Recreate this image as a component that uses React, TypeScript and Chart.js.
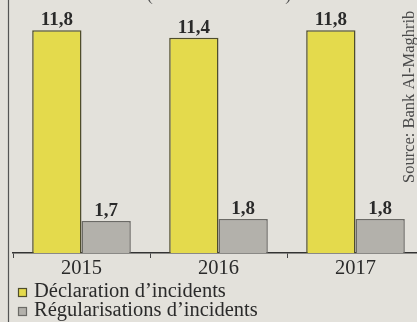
import React, { useEffect, useRef } from "react";
import { Chart, registerables } from "chart.js";

Chart.register(...registerables);

const categories = ["2015", "2016", "2017"];
const declarations = [11.8, 11.4, 11.8];
const regularisations = [1.7, 1.8, 1.8];
const seriesNames = ["Déclaration d\u2019incidents", "Régularisations d\u2019incidents"];
const titleText = "(en millions de DH)";
const sourceText = "Source: Bank Al-Maghrib";

const YELLOW = "#e4da4c";
const YELLOW_BORDER = "#4f4d2c";
const GRAY = "#b3b1ab";
const GRAY_BORDER = "#6b6a66";
const BG = "#e3e1db";
const INK = "#2a2a2a";
const SERIF = "'Liberation Serif', 'DejaVu Serif', serif";

const decorPlugin = {
  id: "decor",
  beforeDraw(chart: any) {
    const ctx = chart.ctx;
    ctx.save();
    ctx.fillStyle = BG;
    ctx.fillRect(0, 0, chart.width, chart.height);
    ctx.restore();
  },
  afterDraw(chart: any) {
    const ctx = chart.ctx;
    ctx.save();
    // left frame line
    ctx.strokeStyle = "#555";
    ctx.lineWidth = 1.2;
    ctx.beginPath();
    ctx.moveTo(8.5, 0);
    ctx.lineTo(8.5, chart.height);
    ctx.stroke();

    // value labels
    ctx.fillStyle = INK;
    ctx.font = `bold 19px ${SERIF}`;
    ctx.textAlign = "center";
    ctx.textBaseline = "alphabetic";
    chart.data.datasets.forEach((ds: any, i: number) => {
      const meta = chart.getDatasetMeta(i);
      meta.data.forEach((el: any, j: number) => {
        const v = ds.data[j];
        ctx.fillText(String(v).replace(".", ","), el.x, el.y - 5);
      });
    });

    // title (cut at top)
    ctx.font = `18px ${SERIF}`;
    ctx.fillStyle = "#555";
    ctx.fillText(titleText, 219, 0);

    // legend
    const items = [
      { name: seriesNames[0], fill: YELLOW, border: YELLOW_BORDER },
      { name: seriesNames[1], fill: GRAY, border: GRAY_BORDER },
    ];
    items.forEach((it, k) => {
      const y = 288 + k * 19;
      ctx.fillStyle = it.fill;
      ctx.fillRect(18, y, 9, 9);
      ctx.strokeStyle = it.border;
      ctx.lineWidth = 1.2;
      ctx.strokeRect(18.5, y + 0.5, 8, 8);
      ctx.fillStyle = INK;
      ctx.font = `20.5px ${SERIF}`;
      ctx.textAlign = "left";
      ctx.fillText(it.name, 34, y + 9);
    });

    // source (rotated)
    ctx.translate(414, 183);
    ctx.rotate(-Math.PI / 2);
    ctx.font = `16.5px ${SERIF}`;
    ctx.fillStyle = "#4a4a4a";
    ctx.textAlign = "left";
    ctx.fillText(sourceText, 0, 0);
    ctx.restore();
  },
};

export default function App() {
  const ref = useRef<HTMLCanvasElement>(null);
  useEffect(() => {
    if (!ref.current) return;
    const chart = new Chart(ref.current, {
      type: "bar",
      data: {
        labels: categories,
        datasets: [
          {
            label: seriesNames[0],
            data: declarations,
            backgroundColor: YELLOW,
            borderColor: YELLOW_BORDER,
            borderWidth: 1.5,
            categoryPercentage: 0.72,
            barPercentage: 1,
          },
          {
            label: seriesNames[1],
            data: regularisations,
            backgroundColor: GRAY,
            borderColor: GRAY_BORDER,
            borderWidth: 1.5,
            categoryPercentage: 0.72,
            barPercentage: 1,
          },
        ],
      },
      options: {
        responsive: false,
        animation: false,
        layout: { padding: { top: 17, left: 13, right: 6, bottom: 0 } },
        plugins: { legend: { display: false }, tooltip: { enabled: false } },
        scales: {
          y: { display: false, min: 0, max: 12.5 },
          x: {
            grid: {
              display: true,
              drawOnChartArea: false,
              drawTicks: true,
              tickLength: 5,
              color: "#444",
              lineWidth: 1,
              offset: true,
            },
            border: { display: true, color: "#333", width: 1.5 },
            ticks: {
              color: INK,
              padding: -2,
              font: { family: SERIF, size: 20.5 },
            },
            afterFit: (s: any) => {
              s.height = 69;
            },
          },
        },
      },
      plugins: [decorPlugin],
    });
    return () => chart.destroy();
  }, []);
  return (
    <div
      style={{
        position: "fixed",
        left: 0,
        top: 0,
        width: 417,
        height: 322,
        overflow: "hidden",
        background: BG,
      }}
    >
      <canvas ref={ref} width={430} height={322} style={{ display: "block" }} />
    </div>
  );
}
